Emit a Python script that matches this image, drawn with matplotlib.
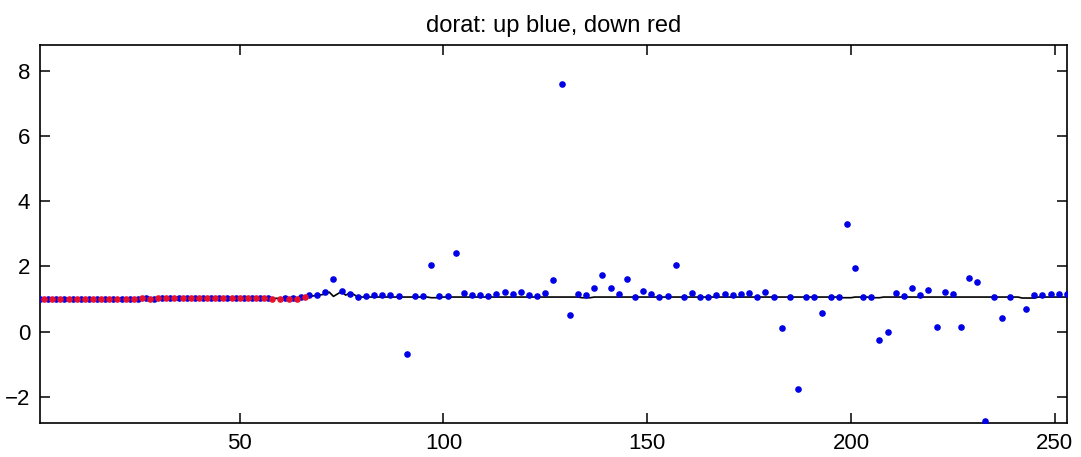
import numpy as np
import matplotlib
matplotlib.use("Agg")
import matplotlib.pyplot as plt
from matplotlib import font_manager

# fonts: Helvetica-like, narrow title if available
names = {f.name for f in font_manager.fontManager.ttflist}
tick_font = "Liberation Sans" if "Liberation Sans" in names else "DejaVu Sans"
title_font = "Liberation Sans Narrow" if "Liberation Sans Narrow" in names else tick_font
plt.rcParams["font.family"] = [tick_font, "DejaVu Sans"]

# data: blue points on odd indices, red on even indices (only up to 66)
blue_left = [1.00, 1.00, 1.00, 1.01, 1.01, 1.01, 1.01, 1.01, 1.01, 1.01,
             1.01, 1.01, 1.01, 1.02, 1.01, 1.02, 1.02, 1.02, 1.02, 1.02,
             1.02, 1.02, 1.02, 1.02, 1.02, 1.03, 1.03, 1.03, 1.03, np.nan,
             1.03, 1.04, 1.05]
blue_right = [1.11, 1.11, 1.22, 1.62, 1.24, 1.16, 1.06, 1.10, 1.11, 1.12,
              1.12, 1.08, -0.68, 1.08, 1.10, 2.06, 1.10, 1.08, 2.43, 1.19,
              1.13, 1.13, 1.10, 1.16, 1.21, 1.14, 1.20, 1.12, 1.09, 1.18,
              1.58, 7.60, 0.50, 1.16, 1.11, 1.33, 1.73, 1.33, 1.16, 1.62,
              1.06, 1.24, 1.15, 1.05, 1.10, 2.06, 1.07, 1.19, 1.05, 1.07,
              1.13, 1.14, 1.11, 1.14, 1.18, 1.06, 1.23, 1.07, 0.12, 1.07,
              -1.78, 1.06, 1.07, 0.58, 1.07, 1.07, 3.32, 1.94, 1.06, 1.06,
              -0.25, 0.00, 1.19, 1.10, 1.33, 1.11, 1.29, 0.13, 1.23, 1.16,
              0.14, 1.66, 1.51, -2.75, 1.07, 0.41, 1.07, np.nan, 0.69, 1.11,
              1.11, 1.14, 1.14, 1.15]
red_vals = [1.00, 1.00, 1.00, 1.00, 1.01, 1.01, 1.01, 1.01, 1.01, 1.01,
            1.01, 1.01, 1.02, 1.01, 1.02, 1.02, 1.02, 1.02, 1.02, 1.02,
            1.02, 1.02, 1.02, 1.03, 1.03, 1.02, 1.03, 1.03, 1.01, 1.01,
            1.00, 1.01, 1.06]

# black reference line (knots)
line_x = [1, 30, 55, 64, 67, 69, 71, 72, 73, 75, 76, 77, 78, 79, 81,
          96, 97, 99, 100, 133, 134, 136, 137, 197, 198, 200, 201,
          204, 205, 207, 208, 241, 242, 245, 246, 253]
line_y = [1.00, 1.01, 1.02, 1.02, 1.08, 1.11, 1.15, 1.21, 1.08, 1.23, 1.12, 1.18, 1.14, 1.06, 1.06,
          1.06, 1.04, 1.04, 1.06, 1.06, 1.04, 1.04, 1.06, 1.06, 1.04, 1.04, 1.06,
          1.06, 1.04, 1.04, 1.06, 1.06, 1.03, 1.03, 1.06, 1.06]

blue_y = np.array(blue_left + blue_right)
blue_x = np.arange(1, 2 * len(blue_y), 2)
red_y = np.array(red_vals)
red_x = np.arange(2, 2 * len(red_y) + 1, 2)

fig = plt.figure(figsize=(10.81, 4.57), dpi=100)
ax = fig.add_axes([0.037, 0.074, 0.950, 0.828])

ax.plot(line_x, line_y, color="black", lw=1.2, zorder=2)
ax.plot(blue_x, blue_y, ".", color="#0000e6", ms=7.5, zorder=3)
ax.plot(red_x, red_y, ".", color="#e8102a", ms=7.5, zorder=4)

ax.set_xlim(1, 253)
ax.set_ylim(-2.82, 8.82)
ax.set_xticks([50, 100, 150, 200, 250])
ax.set_yticks([-2, 0, 2, 4, 6, 8])
ax.tick_params(direction="in", length=7, width=1.1, labelsize=16,
               top=True, right=True, pad=7)
for s in ax.spines.values():
    s.set_linewidth(1.2)

ax.set_title("dorat: up blue, down red", fontsize=17, family=title_font, pad=9)

fig.savefig("out.png", dpi=100)
